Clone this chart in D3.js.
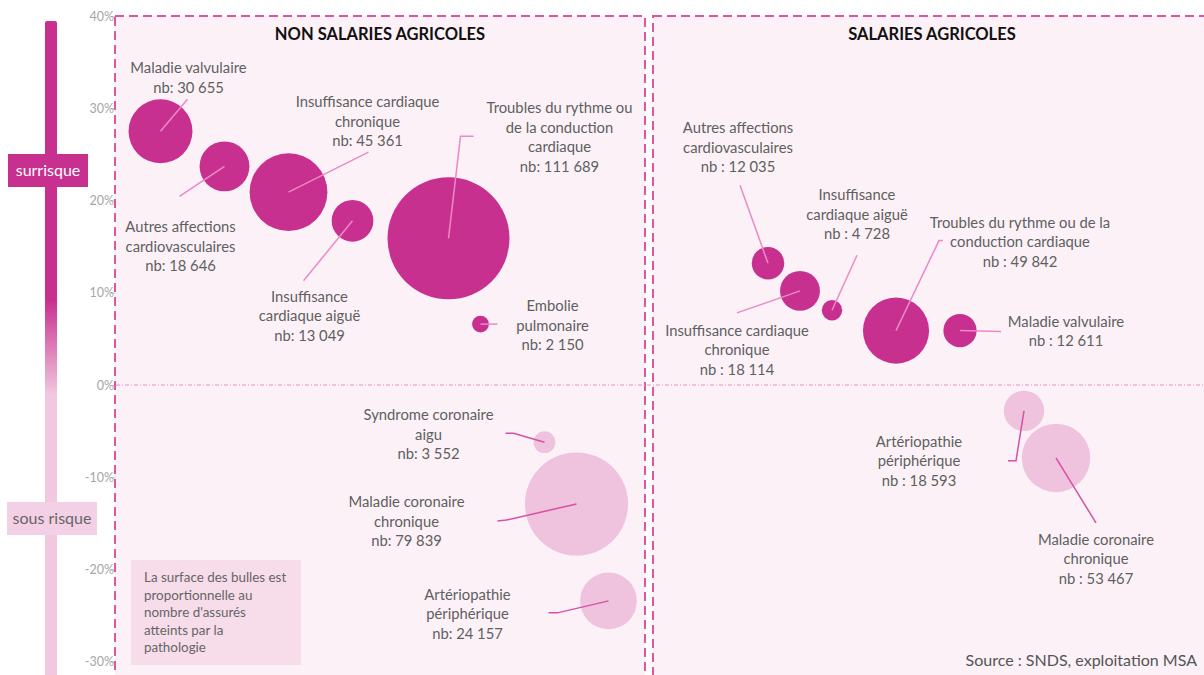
<!DOCTYPE html>
<html>
<head>
<meta charset="utf-8">
<script src="https://cdn.jsdelivr.net/npm/d3@7"></script>
<style>
body { margin: 0; background: #ffffff; }
svg { display: block; font-family: Lato, "Open Sans", sans-serif; }
</style>
</head>
<body>
<svg id="chart" width="1204" height="675"></svg>
<script>
//Data
//Non salaries agricoles
var nsaLabels = [["Maladie valvulaire"], ["Autres affections", "cardiovasculaires"], ["Insuffisance cardiaque", "chronique"], ["Insuffisance", "cardiaque aiguë"], ["Troubles du rythme ou", "de la conduction", "cardiaque"], ["Embolie", "pulmonaire"], ["Syndrome coronaire", "aigu"], ["Maladie coronaire", "chronique"], ["Artériopathie", "périphérique"]];
var nsaCounts = [30655, 18646, 45361, 13049, 111689, 2150, 3552, 79839, 24157];
var nsaRisk = [27.5, 23.7, 20.9, 17.8, 15.9, 6.6, -6.2, -12.9, -23.4];
var nsaPos = [1, 3, 5, 7, 10, 11, 13, 14, 15];

//Salaries agricoles
var saLabels = [["Autres affections", "cardiovasculaires"], ["Insuffisance cardiaque", "chronique"], ["Insuffisance", "cardiaque aiguë"], ["Troubles du rythme ou de la", "conduction cardiaque"], ["Maladie valvulaire"], ["Artériopathie", "périphérique"], ["Maladie coronaire", "chronique"]];
var saCounts = [12035, 18114, 4728, 49842, 12611, 18593, 53467];
var saRisk = [13.2, 10.2, 8.1, 5.9, 5.9, -2.8, -7.9];
var saPos = [3, 4, 5, 7, 9, 11, 12];

var yTicks = [40, 30, 20, 10, 0, -10, -20, -30];
var panelTitles = ["NON SALARIES AGRICOLES", "SALARIES AGRICOLES"];
var legendLines = ["La surface des bulles est", "proportionnelle au", "nombre d'assurés", "atteints par la", "pathologie"];

//Annotation layout (offsets from bubble centre)
var nsaLabelAt = [[28, -63], [-44, 61], [79, -90], [-43, 76], [111, -130], [72, -18], [-116, -27], [-170, -2], [-141, -6]];
var nsaLeader = [[[27, -32]], [[-45, 30]], [[80, -40]], [[-49, 60]], [[12, -102], [25, -102]], [[17, 0]], [[-31, -9], [-39, -9]], [[-70, 16], [-79, 17]], [[-51, 12], [-60, 12]]];
var saLabelAt = [[-30, -135], [-63, 40], [25, -115], [124, -108], [106, -9], [-105, 31], [40, 82]];
var saLeader = [[[-28, -78]], [[-63, 22]], [[25, -55]], [[43, -90], [47, -90]], [[41, 1]], [[-8, 50], [-16, 50]], [[40, 65]]];

var svg = d3.select("#chart");

var frLocale = d3.formatLocale({decimal: ",", thousands: "\u00a0", grouping: [3], currency: ["", " €"]});
var fmt = frLocale.format(",");

//Scales
var y = d3.scaleLinear().domain([-30, 40]).range([661.75, 16]);
var xLeft = d3.scaleLinear().domain([0, 16]).range([128.5, 640.5]);
var xRight = d3.scaleLinear().domain([0, 16]).range([672, 1184]);
var rLeft = d3.scaleSqrt().domain([0, 111689]).range([0, 61]);
var rRight = d3.scaleSqrt().domain([0, 111689]).range([0, 49.5]);

var dark = "#c8308f";
var light = "#efc2de";

////////////////////// Left risk gauge /////////////////////////

var grad = svg.append("defs")
    .append("linearGradient")
    .attr("id", "gauge")
    .attr("gradientUnits", "userSpaceOnUse")
    .attr("x1", 0).attr("x2", 0)
    .attr("y1", 21).attr("y2", 675);
grad.append("stop").attr("offset", 0).attr("stop-color", dark);
grad.append("stop").attr("offset", (300 - 21) / 654).attr("stop-color", dark);
grad.append("stop").attr("offset", (395 - 21) / 654).attr("stop-color", "#f1c8e0");
grad.append("stop").attr("offset", 1).attr("stop-color", "#f1c8e0");

svg.append("rect")
    .attr("x", 45).attr("y", 21)
    .attr("width", 12).attr("height", 680)
    .attr("rx", 2)
    .style("fill", "url(#gauge)");

svg.append("rect")
    .attr("x", 8).attr("y", 154)
    .attr("width", 80).attr("height", 33)
    .style("fill", dark);
svg.append("text")
    .attr("x", 48).attr("y", 176)
    .attr("text-anchor", "middle")
    .style("font-size", "16px")
    .style("fill", "#ffffff")
    .text("surrisque");

svg.append("rect")
    .attr("x", 7).attr("y", 502)
    .attr("width", 90).attr("height", 33)
    .style("fill", "#f3d0e5");
svg.append("text")
    .attr("x", 52).attr("y", 524)
    .attr("text-anchor", "middle")
    .style("font-size", "16px")
    .style("fill", "#666666")
    .text("sous risque");

////////////////////// Y axis /////////////////////////

var yAxis = svg.append("g")
    .attr("transform", "translate(115,0)")
    .call(d3.axisLeft(y)
        .tickValues(yTicks)
        .tickFormat(d => d + "%")
        .tickSize(4)
        .tickPadding(-3));
yAxis.select(".domain").remove();
yAxis.selectAll(".tick line").attr("stroke", "#c8c8c8");
yAxis.selectAll(".tick text")
    .style("font-family", "Lato, sans-serif")
    .style("font-size", "12.5px")
    .style("fill", "#a6a6a6");

////////////////////// Panels /////////////////////////

var panels = [[115, 645], [653, 1214]];

svg.selectAll(".panel")
    .data(panels)
    .enter()
    .append("rect")
    .classed("panel", true)
    .attr("x", d => d[0])
    .attr("y", 16)
    .attr("width", d => d[1] - d[0])
    .attr("height", 700)
    .style("fill", "#fbf1f7")
    .style("stroke", "#e0559f")
    .style("stroke-width", 2)
    .style("stroke-dasharray", "9,5");

//0% line
svg.append("line")
    .attr("x1", 116).attr("x2", 1204)
    .attr("y1", y(0)).attr("y2", y(0))
    .style("stroke", "#e98dc3")
    .style("stroke-width", 1)
    .style("stroke-dasharray", "4,2,1,2");

svg.selectAll(".ptitle")
    .data(panelTitles)
    .enter()
    .append("text")
    .classed("ptitle", true)
    .attr("x", (d, i) => i == 0 ? 380 : 932)
    .attr("y", 40)
    .attr("text-anchor", "middle")
    .style("font-size", "16.5px")
    .style("font-weight", "bold")
    .style("fill", "#111111")
    .text(d => d);

////////////////////// Bubbles /////////////////////////

function buildRows(labels, counts, risk, pos, labelAt, leader, sep) {
    return labels.map(function(l, i) {
        return {
            lines: l.concat(["nb" + sep + fmt(counts[i])]),
            nb: counts[i],
            risk: risk[i],
            pos: pos[i],
            labelAt: labelAt[i],
            leader: leader[i]
        };
    });
}

var groups = [
    {rows: buildRows(nsaLabels, nsaCounts, nsaRisk, nsaPos, nsaLabelAt, nsaLeader, ": "), x: xLeft, r: rLeft},
    {rows: buildRows(saLabels, saCounts, saRisk, saPos, saLabelAt, saLeader, " : "), x: xRight, r: rRight}
];

groups.forEach(function(g) {
    var layer = svg.append("g");

    layer.selectAll("circle")
        .data(g.rows)
        .enter()
        .append("circle")
        .attr("cx", d => g.x(d.pos))
        .attr("cy", d => y(d.risk))
        .attr("r", d => g.r(d.nb))
        .style("fill", d => d.risk >= 0 ? dark : light);

    //Leader lines
    layer.selectAll("path")
        .data(g.rows)
        .enter()
        .append("path")
        .attr("d", function(d) {
            var cx = g.x(d.pos), cy = y(d.risk);
            var pts = [[cx, cy]].concat(d.leader.map(p => [cx + p[0], cy + p[1]]));
            return d3.line()(pts);
        })
        .style("fill", "none")
        .style("stroke", d => d.risk >= 0 ? "#ea8ac6" : "#d850a4")
        .style("stroke-width", 1.5);

    //Labels
    layer.selectAll("text")
        .data(g.rows)
        .enter()
        .append("text")
        .attr("text-anchor", "middle")
        .style("font-size", "14.8px")
        .style("fill", "#5f5f5f")
        .each(function(d) {
            var cx = g.x(d.pos) + d.labelAt[0];
            var cy = y(d.risk) + d.labelAt[1] + 5;
            d3.select(this)
                .selectAll("tspan")
                .data(d.lines)
                .enter()
                .append("tspan")
                .attr("x", cx)
                .attr("y", (t, j) => cy + j * 19.5)
                .text(t => t);
        });
});

////////////////////// Legend note & source /////////////////////////

svg.append("rect")
    .attr("x", 131).attr("y", 560)
    .attr("width", 170).attr("height", 105)
    .style("fill", "#f7dcea");

svg.append("text")
    .style("font-size", "13.4px")
    .style("fill", "#666666")
    .selectAll("tspan")
    .data(legendLines)
    .enter()
    .append("tspan")
    .attr("x", 144)
    .attr("y", (d, i) => 582 + i * 17.6)
    .text(d => d);

svg.append("text")
    .attr("x", 1197).attr("y", 666)
    .attr("text-anchor", "end")
    .style("font-size", "16px")
    .style("fill", "#555555")
    .text("Source : SNDS, exploitation MSA");
</script>
</body>
</html>
